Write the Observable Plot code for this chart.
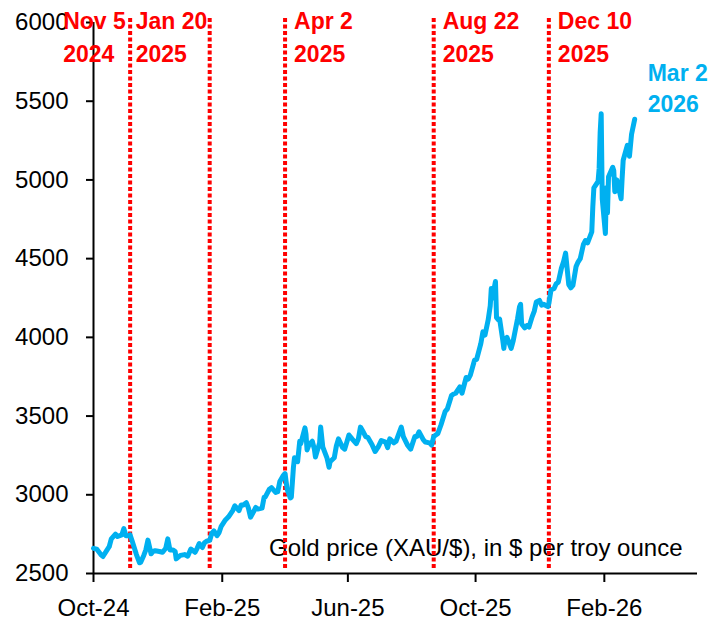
<!DOCTYPE html>
<html>
<head>
<meta charset="utf-8">
<script src="https://cdn.jsdelivr.net/npm/d3@7"></script>
<script src="https://cdn.jsdelivr.net/npm/@observablehq/plot@0.6"></script>
<style>
  html, body { margin: 0; padding: 0; background: #fff; }
  #chart svg { display: block; }
</style>
</head>
<body>
<div id="chart"></div>
<script>
const dates = [
"2024-10-01","2024-10-04","2024-10-08","2024-10-10","2024-10-14","2024-10-16","2024-10-18","2024-10-22","2024-10-24","2024-10-28",
"2024-10-30","2024-11-01","2024-11-04","2024-11-05","2024-11-07","2024-11-11","2024-11-14","2024-11-15","2024-11-18","2024-11-20",
"2024-11-22","2024-11-25","2024-11-27","2024-11-29","2024-12-03","2024-12-06","2024-12-09","2024-12-11","2024-12-13","2024-12-16",
"2024-12-18","2024-12-19","2024-12-23","2024-12-27","2024-12-30","2025-01-02","2025-01-06","2025-01-08","2025-01-10","2025-01-13",
"2025-01-15","2025-01-17","2025-01-20","2025-01-22","2025-01-24","2025-01-27","2025-01-29","2025-01-31","2025-02-04","2025-02-07",
"2025-02-11","2025-02-13","2025-02-17","2025-02-19","2025-02-21","2025-02-24","2025-02-26","2025-02-28","2025-03-03","2025-03-05",
"2025-03-07","2025-03-11","2025-03-13","2025-03-14","2025-03-18","2025-03-20","2025-03-24","2025-03-26","2025-03-28","2025-03-31",
"2025-04-02","2025-04-04","2025-04-07","2025-04-08","2025-04-10","2025-04-11","2025-04-14","2025-04-16","2025-04-17","2025-04-21",
"2025-04-22","2025-04-23","2025-04-25","2025-04-28","2025-04-30","2025-05-01","2025-05-05","2025-05-06","2025-05-08","2025-05-12",
"2025-05-14","2025-05-15","2025-05-19","2025-05-21","2025-05-23","2025-05-27","2025-05-29","2025-06-02","2025-06-05","2025-06-09",
"2025-06-11","2025-06-13","2025-06-16","2025-06-18","2025-06-20","2025-06-24","2025-06-27","2025-06-30","2025-07-03","2025-07-07",
"2025-07-09","2025-07-11","2025-07-15","2025-07-17","2025-07-22","2025-07-24","2025-07-28","2025-07-31","2025-08-04","2025-08-06",
"2025-08-08","2025-08-12","2025-08-14","2025-08-18","2025-08-20","2025-08-22","2025-08-26","2025-08-29","2025-09-02","2025-09-04",
"2025-09-08","2025-09-10","2025-09-12","2025-09-16","2025-09-18","2025-09-22","2025-09-24","2025-09-26","2025-09-30","2025-10-02",
"2025-10-06","2025-10-08","2025-10-10","2025-10-13","2025-10-15","2025-10-16","2025-10-17","2025-10-20","2025-10-21","2025-10-23",
"2025-10-24","2025-10-27","2025-10-28","2025-10-29","2025-10-31","2025-11-04","2025-11-06","2025-11-10","2025-11-12","2025-11-13",
"2025-11-14","2025-11-17","2025-11-19","2025-11-21","2025-11-24","2025-11-26","2025-11-28","2025-12-01","2025-12-03","2025-12-05",
"2025-12-09","2025-12-10","2025-12-12","2025-12-15","2025-12-17","2025-12-19","2025-12-22","2025-12-24","2025-12-26","2025-12-29",
"2025-12-31","2026-01-02","2026-01-05","2026-01-07","2026-01-09","2026-01-12","2026-01-14","2026-01-16","2026-01-20","2026-01-21",
"2026-01-22","2026-01-26","2026-01-27","2026-01-28","2026-01-29","2026-01-30","2026-02-02","2026-02-03","2026-02-04","2026-02-05",
"2026-02-09","2026-02-10","2026-02-11","2026-02-13","2026-02-17","2026-02-18","2026-02-19","2026-02-23","2026-02-25","2026-02-27",
"2026-03-02"
];
const prices = [
2660,2655,2620,2608,2650,2670,2720,2750,2735,2745,
2785,2740,2740,2745,2705,2620,2568,2570,2615,2650,
2712,2625,2640,2645,2640,2635,2660,2720,2650,2650,
2640,2593,2615,2620,2610,2655,2635,2660,2690,2665,
2695,2705,2710,2755,2770,2740,2760,2800,2840,2860,
2900,2930,2900,2935,2935,2950,2915,2858,2893,2920,
2910,2915,2985,2985,3035,3045,3015,3020,3085,3120,
3135,3035,2980,2985,3175,3235,3210,3340,3325,3425,
3385,3285,3320,3340,3290,3240,3330,3430,3305,3235,
3175,3210,3235,3310,3355,3300,3290,3380,3355,3325,
3355,3430,3395,3370,3365,3320,3275,3305,3345,3335,
3300,3355,3330,3340,3430,3370,3315,3290,3370,3370,
3400,3350,3335,3330,3315,3370,3390,3445,3530,3545,
3630,3640,3645,3685,3645,3745,3735,3760,3855,3860,
3960,4035,4015,4110,4200,4310,4250,4355,4125,4110,
4115,3980,3930,3985,4000,3930,3980,4115,4195,4210,
4085,4060,4075,4065,4130,4165,4225,4235,4205,4210,
4195,4215,4300,4310,4340,4350,4440,4480,4535,4335,
4315,4330,4450,4480,4500,4590,4615,4600,4670,4830,
4950,4990,5070,5300,5420,4880,4660,4950,4790,5020,
5080,5060,4925,5000,4880,5010,5125,5220,5150,5290,
5385
];

const eventDates = ["2024-11-05","2025-01-20","2025-04-02","2025-08-22","2025-12-10"];
const eventLabels = ["Nov 5\n2024","Jan 20\n2025","Apr 2\n2025","Aug 22\n2025","Dec 10\n2025"];
const endLabel = "Mar 2\n2026";
const yTicks = [2500,3000,3500,4000,4500,5000,5500,6000];
const xTicks = ["2024-10-01","2025-02-01","2025-06-01","2025-10-01","2026-02-01"];
const xDomain = ["2024-10-01","2026-05-01"];
const yDomain = [2500,6000];
const caption = "Gold price (XAU/$), in $ per troy ounce";

const parse = d3.utcParse("%Y-%m-%d");
const data = dates.map((d, i) => ({date: parse(d), price: prices[i]}));
const events = eventDates.map((d, i) => ({date: parse(d), label: eventLabels[i]}));
const last = data[data.length - 1];

const FONT = "'Liberation Sans', Arial, sans-serif";
const RED = "#FF0000";
const BLUE = "#00B0F0";
const labelStyle = {x: "date", text: "label", frameAnchor: "top", textAnchor: "start",
  lineAnchor: "top", lineHeight: 1.43, dy: -17, fontSize: 23, fontWeight: "bold", fill: RED};

const chart = Plot.plot({
  width: 718,
  height: 623,
  marginLeft: 93,
  marginRight: 21,
  marginTop: 22,
  marginBottom: 50,
  style: {fontFamily: FONT, background: "#fff", color: "#000", overflow: "visible"},
  x: {type: "utc", domain: xDomain.map(parse)},
  y: {domain: yDomain},
  marks: [
    Plot.axisY({ticks: yTicks, tickSize: 7, tickPadding: 18, tickFormat: d => String(d),
      fontSize: 24, stroke: "#000", strokeWidth: 2, color: "#000", label: null}),
    Plot.axisX({ticks: xTicks.map(parse), tickSize: 9, tickPadding: 16, tickFormat: d3.utcFormat("%b-%y"),
      fontSize: 24, stroke: "#000", strokeWidth: 2, color: "#000", label: null}),
    Plot.text([caption], {frameAnchor: "bottom-right", dx: -15, dy: -18, fontSize: 24,
      fill: "#000", textAnchor: "end", lineAnchor: "bottom"}),
    Plot.ruleX(events, {x: "date", stroke: RED, strokeWidth: 4, strokeDasharray: "4,2.5",
      insetTop: -4, insetBottom: 4}),
    Plot.ruleY([yDomain[0]], {stroke: "#000", strokeWidth: 2}),
    Plot.ruleX([parse(xDomain[0])], {stroke: "#000", strokeWidth: 2}),
    Plot.line(data, {x: "date", y: "price", stroke: BLUE, strokeWidth: 5,
      strokeLinejoin: "round", strokeLinecap: "round"}),
    Plot.text(events.slice(0, 1), {...labelStyle, dx: -67}),
    Plot.text(events.slice(1, 2), {...labelStyle, dx: -74}),
    Plot.text(events.slice(2), {...labelStyle, dx: 9}),
    Plot.text([last], {x: "date", y: "price", text: () => endLabel, textAnchor: "start",
      lineAnchor: "top", lineHeight: 1.35, dx: 13, dy: -60, fontSize: 23, fontWeight: "bold", fill: BLUE})
  ]
});
document.getElementById("chart").appendChild(chart);
</script>
</body>
</html>
